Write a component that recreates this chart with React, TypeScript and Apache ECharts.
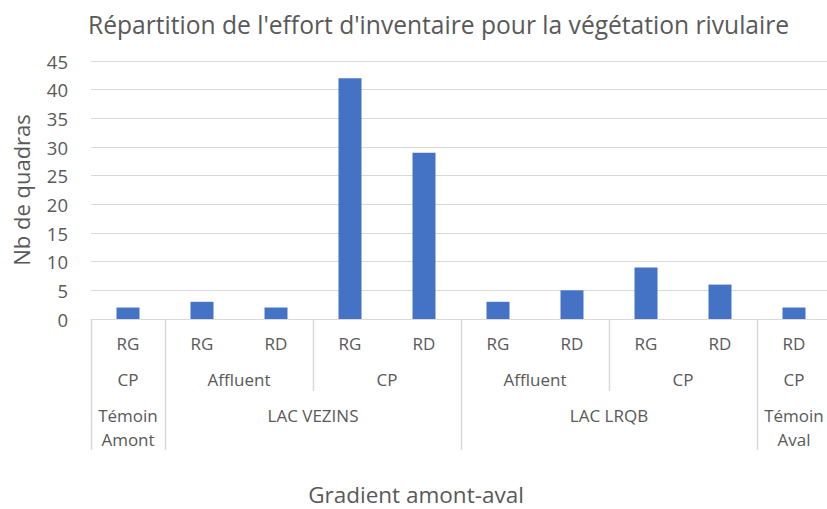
import React, { useEffect, useRef } from "react";
import * as echarts from "echarts";

const titleText = "Répartition de l'effort d'inventaire pour la végétation rivulaire";
const yAxisTitle = "Nb de quadras";
const xAxisTitle = "Gradient amont-aval";
const categories = ["RG", "RG", "RD", "RG", "RD", "RG", "RD", "RG", "RD", "RD"];
const values = [2, 3, 2, 42, 29, 3, 5, 9, 6, 2];
const level2Labels = ["CP", "Affluent", "CP", "Affluent", "CP", "CP"];
const level2Spans = [1, 2, 2, 2, 2, 1];
const level3Labels = ["Témoin\nAmont", "LAC VEZINS", "LAC LRQB", "Témoin\nAval"];
const level3Spans = [1, 4, 4, 1];
const yTicks = { min: 0, max: 45, interval: 5 };

const FONT = "'Open Sans', sans-serif";
const TEXT = "#595959";
const LINE = "#d9d9d9";

export default function App() {
  const ref = useRef<HTMLDivElement>(null);
  useEffect(() => {
    if (!ref.current) return;
    const chart = echarts.init(ref.current, null, { renderer: "svg" });
    chart.setOption({
      animation: false,
      backgroundColor: "#ffffff",
      textStyle: { fontFamily: FONT },
      title: {
        text: titleText,
        left: 88,
        top: 12,
        padding: 0,
        textStyle: { fontFamily: FONT, fontSize: 24.6, fontWeight: "normal", color: TEXT },
      },
      grid: { left: 91, right: 4, top: 61, bottom: 190, containLabel: false },
      xAxis: {
        type: "category",
        data: categories,
        axisLine: { show: true, lineStyle: { color: LINE, width: 1 } },
        axisTick: { show: false },
        axisLabel: { color: TEXT, fontSize: 17, fontFamily: FONT, margin: 16, interval: 0 },
      },
      yAxis: {
        type: "value",
        min: yTicks.min,
        max: yTicks.max,
        interval: yTicks.interval,
        name: yAxisTitle,
        nameLocation: "middle",
        nameGap: 59,
        nameTextStyle: { color: TEXT, fontSize: 22, fontFamily: FONT },
        axisLine: { show: false },
        axisTick: { show: false },
        axisLabel: { color: TEXT, fontSize: 18.5, fontFamily: FONT, margin: 23 },
        splitLine: { lineStyle: { color: LINE, width: 1 } },
      },
      series: [
        {
          type: "bar",
          data: values,
          barWidth: 23,
          itemStyle: { color: "#4472C4" },
        },
      ],
    });

    const px = (i: number) => chart.convertToPixel({ xAxisIndex: 0 }, i) as number;
    const y0 = chart.convertToPixel({ yAxisIndex: 0 }, 0) as number;
    const band = px(1) - px(0);
    const edge = (i: number) => px(0) - band / 2 + i * band;

    const graphics: any[] = [];
    const l3Edges = new Set<number>();
    let acc = 0;
    l3Edges.add(0);
    level3Spans.forEach((s) => { acc += s; l3Edges.add(acc); });
    const l2Edges = new Set<number>();
    acc = 0;
    l2Edges.add(0);
    level2Spans.forEach((s) => { acc += s; l2Edges.add(acc); });
    for (let i = 0; i <= categories.length; i++) {
      const full = l3Edges.has(i);
      const part = l2Edges.has(i);
      if (!full && !part) continue;
      const x = Math.round(edge(i)) + 0.5;
      graphics.push({
        type: "line",
        shape: { x1: x, y1: y0, x2: x, y2: y0 + (full ? 131 : 72) },
        style: { stroke: LINE, lineWidth: 1.5 },
        silent: true,
      });
    }
    acc = 0;
    level2Labels.forEach((lab, k) => {
      const a = acc;
      const b = acc + level2Spans[k] - 1;
      acc += level2Spans[k];
      graphics.push({
        type: "text",
        x: (px(a) + px(b)) / 2,
        y: y0 + 60,
        style: { text: lab, fill: TEXT, font: `17px ${FONT}`, textAlign: "center", textVerticalAlign: "middle" },
      });
    });
    acc = 0;
    level3Labels.forEach((lab, k) => {
      const a = acc;
      const b = acc + level3Spans[k] - 1;
      acc += level3Spans[k];
      graphics.push({
        type: "text",
        x: (px(a) + px(b)) / 2,
        y: y0 + 84,
        style: { text: lab, fill: TEXT, font: `17px ${FONT}`, textAlign: "center", textVerticalAlign: "top", lineHeight: 24 },
      });
    });
    graphics.push({
      type: "text",
      x: 416,
      y: 494,
      style: { text: xAxisTitle, fill: TEXT, font: `22.5px ${FONT}`, lineHeight: 22, textAlign: "center", textVerticalAlign: "middle" },
    });
    chart.setOption({ graphic: graphics });
    return () => chart.dispose();
  }, []);
  return (
    <div style={{ position: "absolute", left: 0, top: 0, width: 827, height: 509, overflow: "hidden" }}>
      <div ref={ref} style={{ width: 835, height: 509 }} />
    </div>
  );
}
